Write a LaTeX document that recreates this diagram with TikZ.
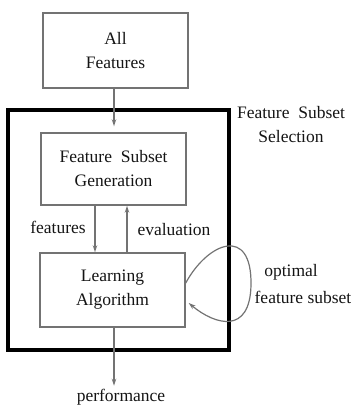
\documentclass[tikz,border=0pt]{standalone}
\usepackage{fontspec}
\setmainfont{Liberation Serif}
\usetikzlibrary{arrows.meta,calc}
\begin{document}
\begin{tikzpicture}[x=1pt,y=-1pt,
  txt/.style={font=\fontsize{17.5}{24}\selectfont, text=black!92, inner sep=0pt},
  box/.style={txt, draw=black!55, line width=1.4pt, align=center,
              minimum width=145pt, minimum height=74pt},
  outer/.style={draw=black, line width=3.2pt, minimum width=221pt, minimum height=240pt, inner sep=0pt},
  link/.style={draw=black!55, line width=1.2pt, -{Stealth[length=7pt,width=4.5pt]}}]
  \useasboundingbox (0,0) rectangle (356,409);

  % outer selection frame and its caption
  \node[outer] (sel) at (118.5,230) {};
  \node[txt, align=center] (selcap) at (291,125) {Feature\enspace Subset\\Selection};

  % boxes
  \node[box, minimum height=75pt] (all) at (115.5,50.5) {All\\Features};
  \node[box, minimum height=72pt] (gen) at (113.5,169) {Feature\enspace Subset\\Generation};
  \node[box] (learn) at (112.5,290) {Learning\\Algorithm};

  % labels
  \node[txt] (featlbl) at (58,227) {features};
  \node[txt] (evallbl) at (174,230) {evaluation};
  \node[txt] (optlbl) at (291,272) {optimal};
  \node[txt] (subsetlbl) at (303,297) {feature subset};
  \node[txt] (perf) at (121,397) {performance};

  % connectors
  \coordinate (allout) at (all.south -| 114,0);
  \draw[link, shorten >=6pt] (allout) -- (allout |- gen.north);
  \draw[link] (gen.south -| 95,0) -- (learn.north -| 95,0);
  \draw[link] (learn.north -| 127,0) -- (gen.south -| 127,0);
  \coordinate (perfin) at (learn.south -| 114,0);
  \draw[link] (perfin) -- ($(perf.north -| perfin)+(0,-3)$);

  % feedback loop on the learning algorithm
  \coordinate (loopout) at ($(learn.east)+(0,-7)$);
  \coordinate (loopin) at ($(learn.east)+(3,13)$);
  \draw[link] (loopout) .. controls (208,242) and (252,225) .. (251,285)
                        .. controls (250,335) and (215,325) .. (loopin);
\end{tikzpicture}
\end{document}
